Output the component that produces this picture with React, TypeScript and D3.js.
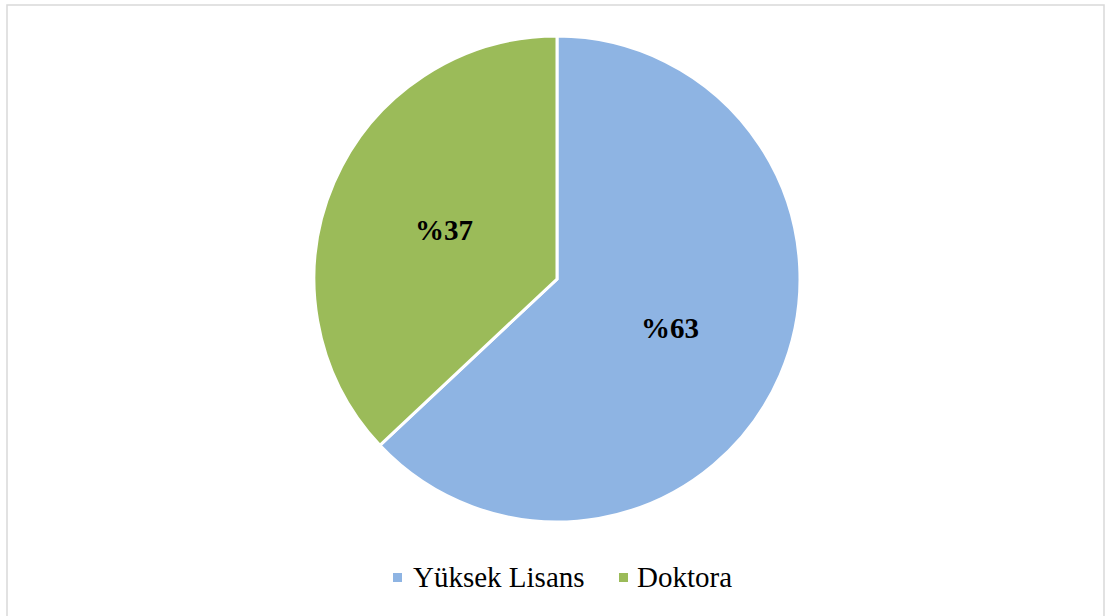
import React from "react";
import * as d3 from "d3";

const categories = ["Yüksek Lisans", "Doktora"];
const values = [63, 37];
const labels = ["%63", "%37"];
const colors = ["#8EB4E3", "#9BBB59"];

export default function App() {
  const W = 1109, H = 616;
  const cx = 557, cy = 279, r = 243;
  const pie = d3.pie<number>().sort(null).value((d) => d);
  const arcs = pie(values);
  const arc = d3.arc<d3.PieArcDatum<number>>().innerRadius(0).outerRadius(r);
  const labelArc = d3.arc<d3.PieArcDatum<number>>().innerRadius(r * 0.507).outerRadius(r * 0.507);
  const legendItems = [
    { x: 393, tx: 413 },
    { x: 619, tx: 637 },
  ];
  const font = "'Liberation Serif', 'Times New Roman', serif";
  return (
    <svg width={W} height={H} style={{ position: "absolute", left: 0, top: 0 }}>
      <rect x={0} y={0} width={W} height={H} fill="#fff" />
      <rect x={7} y={5} width={1097} height={620} fill="none" stroke="#D9D9D9" strokeWidth={1.5} />
      <g transform={`translate(${cx},${cy})`}>
        {arcs.map((a, i) => (
          <path key={i} d={arc(a) || ""} fill={colors[i]} stroke="#fff" strokeWidth={3} strokeLinejoin="miter" />
        ))}
        {arcs.map((a, i) => {
          const [lx, ly] = labelArc.centroid(a);
          return (
            <text key={i} x={lx} y={ly} textAnchor="middle" dominantBaseline="central"
              fontFamily={font} fontWeight="bold" fontSize={29} fill="#000">
              {labels[i]}
            </text>
          );
        })}
      </g>
      {categories.map((c, i) => (
        <g key={c}>
          <rect x={legendItems[i].x} y={573} width={9} height={9} fill={colors[i]} />
          <text x={legendItems[i].tx} y={587} fontFamily={font} fontSize={29} fill="#000">
            {c}
          </text>
        </g>
      ))}
    </svg>
  );
}
